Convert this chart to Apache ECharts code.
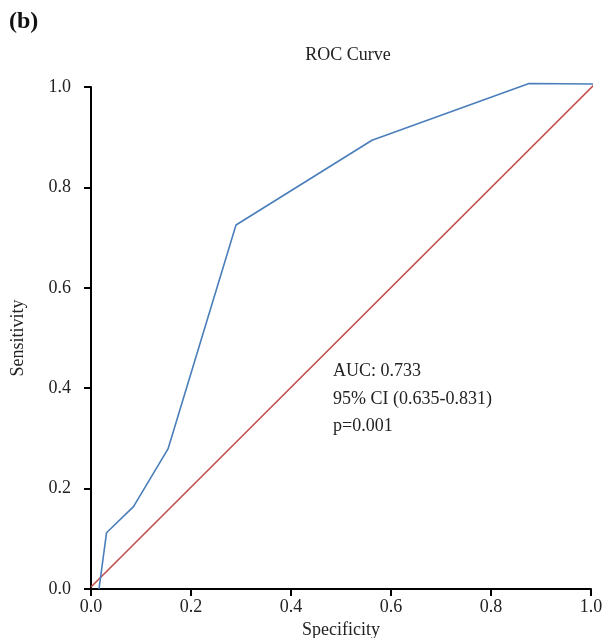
<!DOCTYPE html>
<html>
<head>
<meta charset="utf-8">
<script src="https://cdn.jsdelivr.net/npm/echarts@6/dist/echarts.min.js"></script>
<style>
  html, body { margin: 0; padding: 0; background: #fff; }
  #rocChart { width: 607px; height: 638px; }
</style>
</head>
<body>
<div id="rocChart"></div>
<script>
// ROC points (specificity axis, sensitivity)
var rocX = [0.016, 0.031, 0.085, 0.154, 0.290, 0.562, 0.876, 1.007];
var rocY = [0.000, 0.112, 0.164, 0.279, 0.725, 0.894, 1.007, 1.006];
// reference diagonal
var refX = [0.000, 1.007];
var refY = [0.004, 1.005];
var tickValues = [0, 0.2, 0.4, 0.6, 0.8, 1.0];
var statLines = ['AUC: 0.733', '95% CI (0.635-0.831)', 'p=0.001'];

var serif = 'Liberation Serif';

function pairs (xs, ys) {
  return xs.map(function (x, i) { return [x, ys[i]] })
}

var chart = echarts.init(document.getElementById('rocChart'))
chart.setOption({
  animation: false,
  title: {
    text: 'ROC Curve',
    left: 343,
    top: 41,
    textAlign: 'center',
    textStyle: { fontFamily: serif, fontWeight: 'normal', fontSize: 18, color: '#222' }
  },
  graphic: [
    {
      type: 'text', left: 9, top: 10,
      style: { text: '(b)', fontFamily: serif, fontWeight: 'bold', fontSize: 24, fill: '#111' }
    },
    {
      type: 'text', left: 333, top: 358,
      style: {
        text: statLines.join('\n'), fontFamily: serif, fontSize: 18,
        lineHeight: 27.5, fill: '#222'
      }
    }
  ],
  grid: { left: 91, right: 16, top: 87, bottom: 49, outerBoundsMode: 'none' },
  xAxis: {
    type: 'value', min: 0, max: 1, interval: 0.2,
    name: 'Specificity', nameLocation: 'middle', nameGap: 32,
    nameTextStyle: { fontFamily: serif, fontSize: 18, color: '#222' },
    axisLine: { show: true, onZero: false, lineStyle: { color: '#000', width: 2 } },
    axisTick: { show: true, length: 7, lineStyle: { color: '#000', width: 2 } },
    splitLine: { show: false },
    axisLabel: {
      margin: 9, fontFamily: serif, fontSize: 18, color: '#222',
      formatter: function (v) { return v.toFixed(1) }
    }
  },
  yAxis: {
    type: 'value', min: 0, max: 1, interval: 0.2,
    name: 'Sensitivity', nameLocation: 'middle', nameGap: 64,
    nameTextStyle: { fontFamily: serif, fontSize: 18, color: '#222' },
    axisLine: { show: true, onZero: false, lineStyle: { color: '#000', width: 2 } },
    axisTick: { show: true, length: 7, lineStyle: { color: '#000', width: 2 } },
    splitLine: { show: false },
    axisLabel: {
      margin: 20, fontFamily: serif, fontSize: 18, color: '#222',
      formatter: function (v) { return v.toFixed(1) }
    }
  },
  series: [
    {
      type: 'line',
      data: pairs(refX, refY),
      showSymbol: false,
      clip: false,
      lineStyle: { color: '#c0504d', width: 1.6 }
    },
    {
      type: 'line',
      data: pairs(rocX, rocY),
      showSymbol: false,
      clip: false,
      lineStyle: { color: '#4a7ebb', width: 1.6 }
    }
  ]
})
</script>
</body>
</html>
